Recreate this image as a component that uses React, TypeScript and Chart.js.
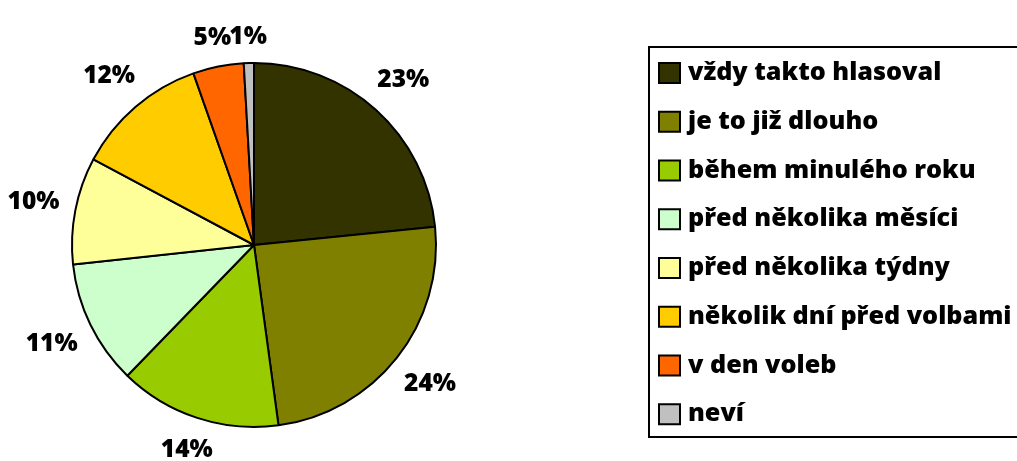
import React, { useEffect, useRef } from "react";
import { Chart, registerables } from "chart.js";

Chart.register(...registerables);

const categories: string[] = [
  "vždy takto hlasoval",
  "je to již dlouho",
  "během minulého roku",
  "před několika měsíci",
  "před několika týdny",
  "několik dní před volbami",
  "v den voleb",
  "neví",
];

const shares: number[] = [23.4, 24.45, 14.4, 11.05, 9.5, 11.8, 4.5, 0.9];

const sliceColors: string[] = [
  "#333300",
  "#808000",
  "#99CC00",
  "#CCFFCC",
  "#FFFF99",
  "#FFCC00",
  "#FF6600",
  "#C0C0C0",
];

const FONT = "'Open Sans', Lato, sans-serif";

const outsideLabels = {
  id: "outsideLabels",
  afterDatasetsDraw(chart: any) {
    const ctx = chart.ctx;
    const meta = chart.getDatasetMeta(0);
    const data = chart.data.datasets[0].data as number[];
    const total = data.reduce((a, b) => a + b, 0);
    ctx.save();
    ctx.font = `800 24.5px ${FONT}`;
    ctx.fillStyle = "#000";
    ctx.textAlign = "center";
    ctx.textBaseline = "middle";
    meta.data.forEach((arc: any, i: number) => {
      const p = arc.getProps(["x", "y", "startAngle", "endAngle", "outerRadius"], true);
      const mid = (p.startAngle + p.endAngle) / 2;
      const text = Math.round((data[i] / total) * 100) + "%";
      const w = ctx.measureText(text).width;
      const h = 22;
      const dx = Math.cos(mid);
      const dy = Math.sin(mid);
      const support = Math.abs(dx) * (w / 2) + Math.abs(dy) * (h / 2);
      const dist = p.outerRadius + 15 + support;
      ctx.fillText(text, p.x + dx * dist, p.y + dy * dist);
    });
    ctx.restore();
  },
};

const boxedLegend = {
  id: "boxedLegend",
  afterDraw(chart: any) {
    const ctx = chart.ctx;
    const labels = chart.data.labels as string[];
    const colors = chart.data.datasets[0].backgroundColor as string[];
    const left = chart.width - 368;
    const top = 47;
    const bottom = 437;
    const rowH = (bottom - top) / labels.length;
    ctx.save();
    ctx.lineWidth = 2;
    ctx.strokeStyle = "#000";
    ctx.strokeRect(left, top, chart.width - left + 10, bottom - top);
    ctx.font = `800 25.2px ${FONT}`;
    ctx.textAlign = "left";
    ctx.textBaseline = "middle";
    labels.forEach((lab, i) => {
      const yc = top + 26 + rowH * i;
      ctx.fillStyle = colors[i];
      ctx.fillRect(left + 10, yc - 10, 21, 20);
      ctx.strokeRect(left + 10, yc - 10, 21, 20);
      ctx.fillStyle = "#000";
      ctx.fillText(lab, left + 39, yc);
    });
    ctx.restore();
  },
};

export default function App() {
  const ref = useRef<HTMLCanvasElement | null>(null);
  useEffect(() => {
    if (!ref.current) return;
    const chart = new Chart(ref.current, {
      type: "pie",
      data: {
        labels: categories,
        datasets: [
          {
            data: shares,
            backgroundColor: sliceColors,
            borderColor: "#000",
            borderWidth: 2,
          },
        ],
      },
      options: {
        animation: false,
        responsive: true,
        maintainAspectRatio: false,
        layout: { padding: { left: 71, top: 62, right: 580, bottom: 33 } },
        plugins: {
          legend: { display: false },
          tooltip: { enabled: false },
        },
      },
      plugins: [outsideLabels, boxedLegend],
    });
    return () => chart.destroy();
  }, []);
  return (
    <div style={{ position: "fixed", left: 0, top: 0, width: "100vw", height: "100vh", background: "#fff" }}>
      <canvas ref={ref} />
    </div>
  );
}
